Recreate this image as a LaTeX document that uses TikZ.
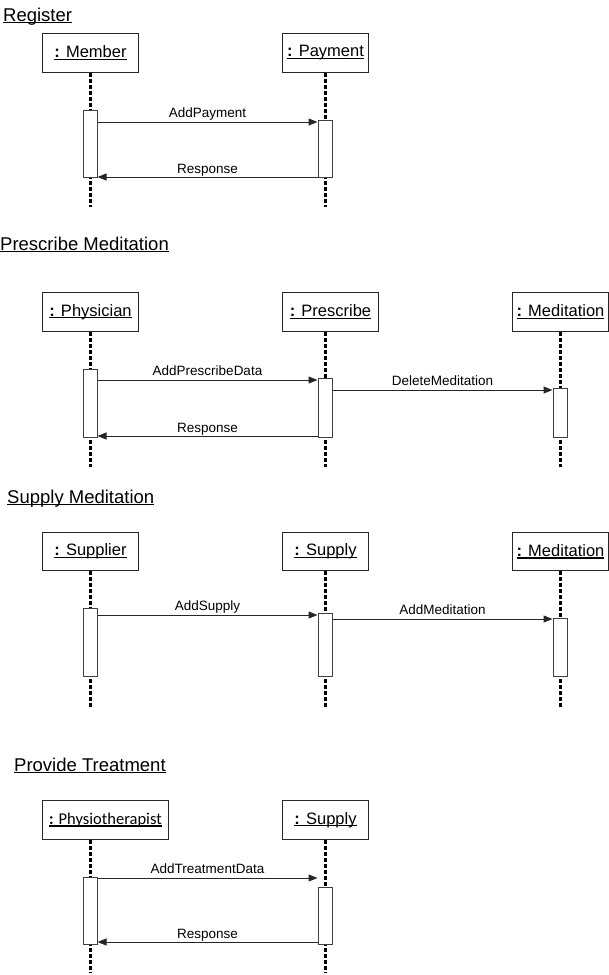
\documentclass[tikz,border=0pt]{standalone}
\usepackage{fontspec}
\setmainfont{Liberation Sans}
\newfontfamily\calibfont{Carlito}
\usetikzlibrary{arrows.meta}
\newcommand\myul[1]{\setbox0\hbox{#1}\rlap{\rule[-0.13em]{\wd0}{0.065em}}\box0}
\begin{document}
\begin{tikzpicture}[x=1pt,y=-1pt,
  ttl/.style={anchor=base west, inner sep=0pt, font=\fontsize{18.5}{20}\selectfont},
  objbox/.style={draw=black!85, line width=1pt, anchor=north west, inner sep=0pt,
    minimum height=39pt, font=\fontsize{16.5}{18}\selectfont},
  actbar/.style={draw=black!75, line width=1pt, fill=white, anchor=north,
    minimum width=14pt, inner sep=0pt},
  life/.style={line width=3pt, dash pattern=on 4pt off 2pt},
  msg/.style={line width=1pt, draw=black!85, -{Triangle[length=9pt,width=7pt]}},
  lbl/.style={midway, anchor=base, yshift=5pt, inner sep=0pt,
    font=\fontsize{13.5}{15}\selectfont}
]
\useasboundingbox (0,0) rectangle (609,975);

% ===================== Register =====================
\node[ttl] (t1) at (3,21) {\myul{Register}};
\node[objbox, minimum width=96pt] (mem) at (42,33) {\myul{\textbf{:} Member}};
\node[objbox, minimum width=86pt] (pay) at (282,33) {\myul{\textbf{:} Payment}};
\coordinate (e1a) at (90,207);
\coordinate (e1b) at (325,207);
\draw[life] (e1a |- mem.south) -- (e1a);
\draw[life] (e1b |- pay.south) -- (e1b);
\node[actbar, minimum height=67pt] (b1a) at (90,110) {};
\node[actbar, minimum height=57pt] (b1b) at (325,120) {};
\coordinate (y1a) at (0,122);
\coordinate (y1b) at (0,177);
\draw[msg] (b1a.east |- y1a) -- (b1b.west |- y1a) node[lbl] {AddPayment};
\draw[msg] (b1b.west |- y1b) -- (b1a.east |- y1b) node[lbl, yshift=-1pt] {Response};

% ===================== Prescribe Meditation =====================
\node[ttl] (t2) at (0,250) {\myul{Prescribe Meditation}};
\node[objbox, minimum width=96pt] (phy) at (42,292) {\myul{\textbf{:} Physician}};
\node[objbox, minimum width=96pt] (pre) at (282,292) {\myul{\textbf{:} Prescribe}};
\node[objbox, minimum width=96pt] (med) at (512,292) {\myul{\textbf{:} Meditation}};
\coordinate (e2a) at (90,467);
\coordinate (e2b) at (325,467);
\coordinate (e2c) at (560,467);
\draw[life] (e2a |- phy.south) -- (e2a);
\draw[life] (e2b |- pre.south) -- (e2b);
\draw[life] (e2c |- med.south) -- (e2c);
\node[actbar, minimum height=68pt] (b2a) at (90,369) {};
\node[actbar, minimum height=59pt] (b2b) at (325,378) {};
\node[actbar, minimum height=49pt] (b2c) at (560,388) {};
\coordinate (y2a) at (0,380);
\coordinate (y2b) at (0,390);
\coordinate (y2c) at (0,436);
\draw[msg] (b2a.east |- y2a) -- (b2b.west |- y2a) node[lbl] {AddPrescribeData};
\draw[msg] (b2b.east |- y2b) -- (b2c.west |- y2b) node[lbl] {DeleteMeditation};
\draw[msg] (b2b.west |- y2c) -- (b2a.east |- y2c) node[lbl, yshift=-1pt] {Response};

% ===================== Supply Meditation =====================
\node[ttl] (t3) at (7,503) {\myul{Supply Meditation}};
\node[objbox, minimum width=96pt, minimum height=38pt] (sup) at (42,532) {\myul{\textbf{:} Supplier}};
\node[objbox, minimum width=86pt, minimum height=38pt] (spl) at (282,532) {\myul{\textbf{:} Supply}};
\node[objbox, minimum width=96pt, minimum height=38pt] (med2) at (512,532) {\myul{\textbf{:} Meditation}};
\coordinate (e3a) at (90,707);
\coordinate (e3b) at (325,707);
\coordinate (e3c) at (560,707);
\draw[life] (e3a |- sup.south) -- (e3a);
\draw[life] (e3b |- spl.south) -- (e3b);
\draw[life] (e3c |- med2.south) -- (e3c);
\node[actbar, minimum height=68pt] (b3a) at (90,608) {};
\node[actbar, minimum height=63pt] (b3b) at (325,613) {};
\node[actbar, minimum height=58pt] (b3c) at (560,618) {};
\coordinate (y3a) at (0,615);
\coordinate (y3b) at (0,619);
\draw[msg] (b3a.east |- y3a) -- (b3b.west |- y3a) node[lbl] {AddSupply};
\draw[msg] (b3b.east |- y3b) -- (b3c.west |- y3b) node[lbl] {AddMeditation};

% ===================== Provide Treatment =====================
\node[ttl] (t4) at (14,771) {\myul{Provide Treatment}};
\node[objbox, minimum width=126pt] (pht) at (42,800)
  {\calibfont\fontsize{16.5}{18}\selectfont\myul{\textbf{:} Physiotherapist}};
\node[objbox, minimum width=86pt] (spl2) at (282,800) {\myul{\textbf{:} Supply}};
\coordinate (e4a) at (90,973);
\coordinate (e4b) at (325,973);
\draw[life] (e4a |- pht.south) -- (e4a);
\draw[life] (e4b |- spl2.south) -- (e4b);
\node[actbar, minimum height=67pt] (b4a) at (90,877) {};
\node[actbar, minimum height=57pt] (b4b) at (325,887) {};
\coordinate (y4a) at (0,878);
\coordinate (y4b) at (0,942);
\draw[msg] (b4a.east |- y4a) -- (b4b.west |- y4a) node[lbl] {AddTreatmentData};
\draw[msg] (b4b.west |- y4b) -- (b4a.east |- y4b) node[lbl, yshift=-1pt] {Response};
\end{tikzpicture}
\end{document}
